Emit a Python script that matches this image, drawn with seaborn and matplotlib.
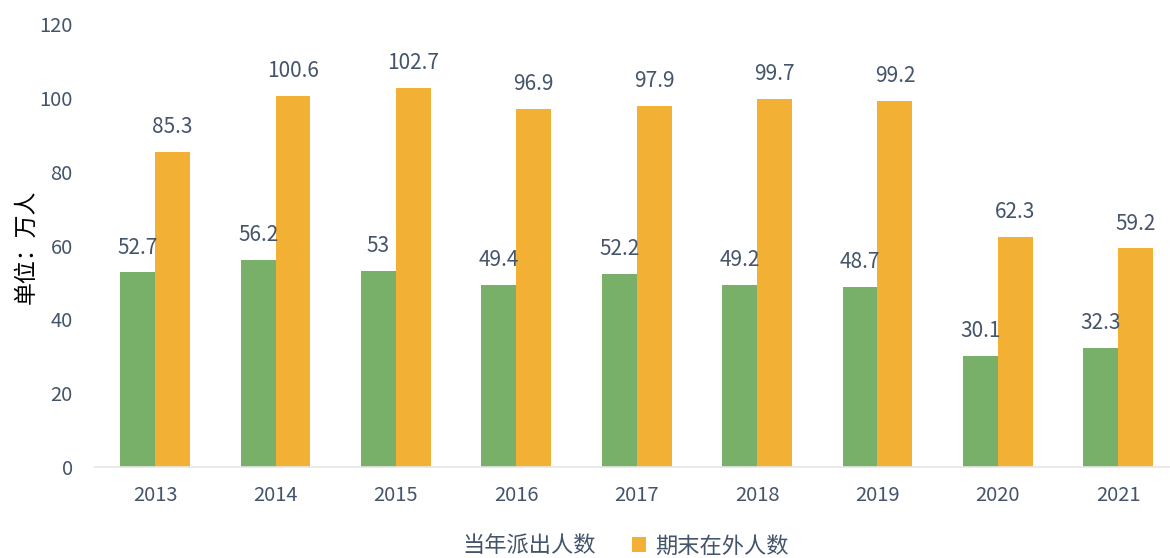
import matplotlib
matplotlib.use("Agg")
import matplotlib.pyplot as plt
import seaborn as sns
import pandas as pd
from matplotlib.patches import Patch

years = ["2013", "2014", "2015", "2016", "2017", "2018", "2019", "2020", "2021"]
dispatched = [52.7, 56.2, 53, 49.4, 52.2, 49.2, 48.7, 30.1, 32.3]
abroad = [85.3, 100.6, 102.7, 96.9, 97.9, 99.7, 99.2, 62.3, 59.2]
series_names = ["当年派出人数", "期末在外人数"]
label_texts_d = ["52.7", "56.2", "53", "49.4", "52.2", "49.2", "48.7", "30.1", "32.3"]
label_texts_a = ["85.3", "100.6", "102.7", "96.9", "97.9", "99.7", "99.2", "62.3", "59.2"]
yticks = [0, 20, 40, 60, 80, 100, 120]

sns.set_theme(style="white")
plt.rcParams['font.family'] = ['Noto Sans CJK SC', 'DejaVu Sans']

df = pd.DataFrame({
    "year": years * 2,
    "value": dispatched + abroad,
    "series": [series_names[0]] * len(years) + [series_names[1]] * len(years),
})

green = "#78B06A"
orange = "#F2B134"
text_color = "#44546A"

fig = plt.figure(figsize=(11.7, 5.58), dpi=100)
ax = fig.add_axes([95 / 1170, 1 - 467 / 558, (1170 - 95) / 1170, (467 - 24) / 558])

sns.barplot(data=df, x="year", y="value", hue="series", order=years,
            hue_order=series_names, palette=[green, orange], width=0.58,
            saturation=1, ax=ax, legend=False, linewidth=0, edgecolor="none")

for cont, labels in zip(ax.containers, [label_texts_d, label_texts_a]):
    ax.bar_label(cont, labels=labels, padding=10, fontsize=15, color=text_color)

ax.set_ylim(0, 120)
ax.set_yticks(yticks)
ax.set_xlim(-0.5, 8.43)
ax.tick_params(axis="both", length=0, labelsize=14.5, labelcolor=text_color)
ax.tick_params(axis="y", pad=16)
ax.tick_params(axis="x", pad=13)
for s in ["top", "right", "left"]:
    ax.spines[s].set_visible(False)
ax.spines["bottom"].set_color("#E6E6E6")
ax.spines["bottom"].set_linewidth(1.2)
ax.set_xlabel("")
ax.set_ylabel("单位：万人", fontsize=16.5, color="black")
ax.yaxis.set_label_coords(-0.053, 0.497)

handles = [Patch(facecolor="none", edgecolor="none"), Patch(facecolor=orange, edgecolor="none")]
fig.legend(handles, series_names, loc="center", bbox_to_anchor=(614 / 1170, 1 - 546 / 558),
           ncol=2, frameon=False, fontsize=16, labelcolor=text_color,
           handlelength=0.65, handleheight=0.65, columnspacing=1.6, handletextpad=0.4)

fig.savefig("out.png", dpi=100)
